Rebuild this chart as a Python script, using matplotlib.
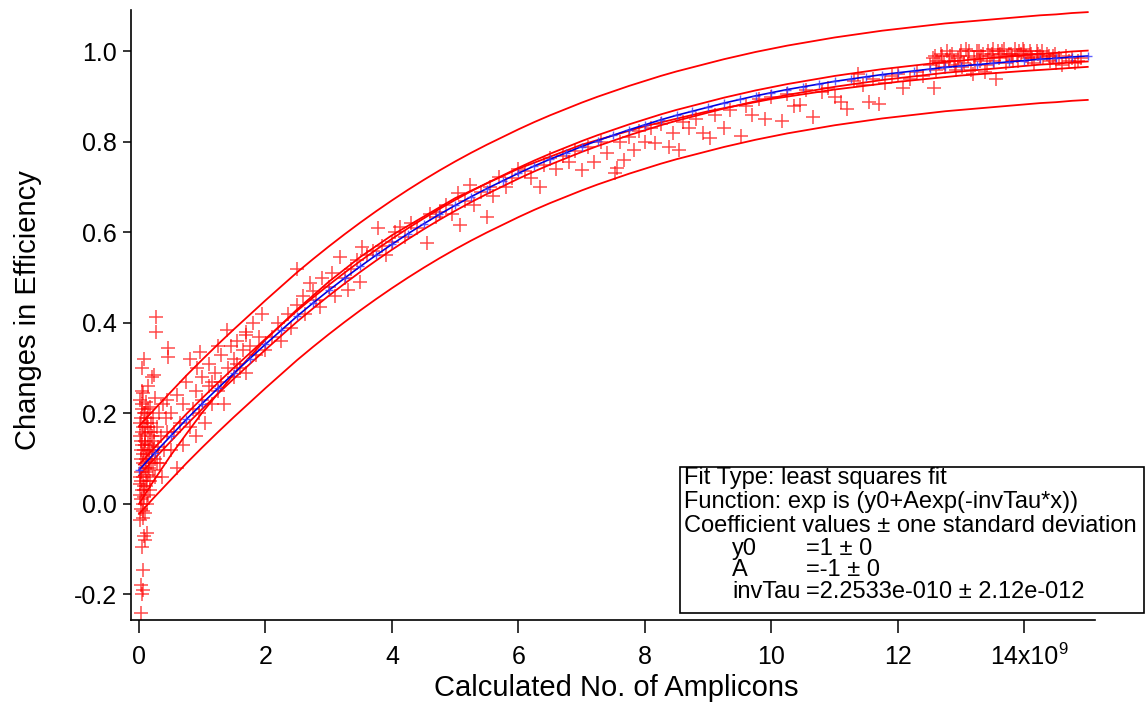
import numpy as np
import matplotlib
matplotlib.use("Agg")
import matplotlib.pyplot as plt
from matplotlib.patches import Rectangle

plt.rcParams["font.family"] = ["Liberation Sans", "DejaVu Sans"]

# measured points, x in units of 1e9 amplicons
amp_low = [0.03, 0.05, 0.06, 0.04, 0.06, 0.05, 0.09, 0.12, 0.08, 0.02,
           0.07, 0.10, 0.04, 0.13, 0.03, 0.08, 0.15, 0.05, 0.11, 0.02,
           0.18, 0.07, 0.14, 0.04, 0.22, 0.10, 0.06, 0.16, 0.03, 0.26,
           0.12, 0.20, 0.08, 0.30, 0.05, 0.15, 0.24, 0.02, 0.10, 0.35,
           0.18, 0.06, 0.28, 0.13, 0.03, 0.22, 0.09, 0.05, 0.17, 0.32,
           0.11, 0.02, 0.26, 0.07, 0.14, 0.20, 0.24, 0.05, 0.08, 0.27,
           0.27, 0.38, 0.42, 0.40, 0.44, 0.36, 0.33, 0.45, 0.46, 0.46,
           0.01, 0.04, 0.07, 0.10, 0.13, 0.16, 0.19, 0.02, 0.05, 0.08,
           0.11, 0.14, 0.17, 0.21, 0.03, 0.06, 0.09, 0.12, 0.25, 0.29,
           0.015, 0.035, 0.055, 0.075, 0.095, 0.115, 0.135, 0.155, 0.175, 0.195,
           0.215, 0.235, 0.045, 0.065, 0.085]
eff_low = [-0.24, -0.20, -0.19, -0.18, -0.145, -0.095, -0.08, -0.065, -0.07, -0.035,
           -0.03, -0.02, -0.01, 0.0, 0.01, 0.015, 0.02, 0.03, 0.04, 0.045,
           0.05, 0.06, 0.065, 0.07, 0.075, 0.08, 0.09, 0.095, 0.10, 0.10,
           0.11, 0.115, 0.12, 0.125, 0.13, 0.135, 0.14, 0.15, 0.155, 0.15,
           0.16, 0.17, 0.17, 0.18, 0.19, 0.19, 0.20, 0.21, 0.215, 0.20,
           0.225, 0.23, 0.235, 0.245, 0.26, 0.28, 0.285, 0.30, 0.32, 0.38,
           0.414, 0.22, 0.19, 0.12, 0.16, 0.06, 0.09, 0.23, 0.345, 0.325,
           0.02, 0.05, 0.11, 0.13, 0.05, 0.12, 0.09, 0.18, 0.16, 0.20,
           0.07, 0.17, 0.03, 0.15, 0.12, 0.00, 0.14, 0.19, 0.06, 0.09,
           0.06, 0.14, 0.22, 0.04, 0.17, 0.10, 0.21, 0.08, 0.13, 0.18,
           0.12, 0.16, 0.25, -0.015, 0.03]

amp_rise = [0.5, 0.5, 0.55, 0.6, 0.6, 0.65, 0.7, 0.7, 0.75, 0.8,
            0.8, 0.85, 0.9, 0.9, 0.92, 0.95, 1.0, 1.0, 1.05, 1.1,
            1.1, 1.15, 1.2, 1.25, 1.3, 1.3, 1.35, 1.4, 1.45, 1.5,
            1.5, 1.55, 1.6, 1.65, 1.7, 1.7, 1.75, 1.8, 1.85, 1.9,
            1.95, 2.0, 0.96, 1.39, 1.7, 1.25, 1.55, 1.15]
eff_rise = [0.12, 0.20, 0.16, 0.08, 0.24, 0.18, 0.13, 0.22, 0.27, 0.17,
            0.32, 0.21, 0.15, 0.25, 0.30, 0.20, 0.23, 0.28, 0.18, 0.26,
            0.31, 0.22, 0.29, 0.25, 0.33, 0.27, 0.22, 0.30, 0.35, 0.28,
            0.32, 0.36, 0.30, 0.34, 0.38, 0.29, 0.35, 0.40, 0.33, 0.37,
            0.42, 0.34, 0.336, 0.385, 0.374, 0.35, 0.31, 0.27]

amp_mid = [2.1, 2.2, 2.25, 2.35, 2.4, 2.5, 2.5, 2.6, 2.62, 2.7,
           2.75, 2.8, 2.86, 2.9, 3.0, 3.05, 3.1, 3.18, 3.25, 3.3,
           3.35, 3.45, 3.5, 3.52, 3.6, 3.7, 3.78, 3.85, 3.9, 4.0,
           4.05, 4.13, 4.2, 4.3, 4.4, 4.55, 4.6, 4.7, 4.76, 4.85,
           4.95, 5.04, 5.07, 5.15, 5.23, 5.3, 5.4, 5.5, 5.55, 5.6,
           5.7, 5.8, 5.9, 6.0]
eff_mid = [0.37, 0.40, 0.36, 0.42, 0.39, 0.52, 0.44, 0.46, 0.42, 0.488,
           0.47, 0.45, 0.435, 0.50, 0.48, 0.51, 0.46, 0.546, 0.50, 0.473,
           0.52, 0.54, 0.49, 0.568, 0.55, 0.56, 0.61, 0.57, 0.55, 0.58,
           0.60, 0.612, 0.59, 0.62, 0.61, 0.577, 0.64, 0.635, 0.645, 0.66,
           0.64, 0.687, 0.617, 0.67, 0.705, 0.66, 0.69, 0.634, 0.70, 0.68,
           0.723, 0.70, 0.72, 0.74]

amp_high = [6.1, 6.2, 6.34, 6.4, 6.5, 6.6, 6.7, 6.8, 6.9, 7.0,
            7.1, 7.2, 7.3, 7.4, 7.53, 7.55, 7.6, 7.67, 7.75, 7.83,
            7.9, 8.0, 8.1, 8.16, 8.25, 8.38, 8.45, 8.54, 8.6, 8.7,
            8.8, 8.92, 9.03, 9.1, 9.25, 9.35, 9.52, 9.6, 9.7, 9.8,
            9.9, 10.0, 10.16, 10.25, 10.35, 10.45, 10.55, 10.66, 10.8, 10.9,
            11.0, 11.1, 11.2, 11.3, 11.37, 11.45, 11.54, 11.6, 11.7, 11.8,
            11.9, 12.0, 12.08, 12.19, 12.3, 12.4, 12.57]
eff_high = [0.735, 0.72, 0.70, 0.75, 0.765, 0.74, 0.77, 0.755, 0.78, 0.738,
            0.79, 0.756, 0.80, 0.775, 0.732, 0.742, 0.80, 0.76, 0.81, 0.782,
            0.825, 0.80, 0.83, 0.797, 0.84, 0.789, 0.82, 0.782, 0.845, 0.83,
            0.85, 0.82, 0.809, 0.86, 0.831, 0.87, 0.813, 0.88, 0.86, 0.895,
            0.851, 0.90, 0.846, 0.905, 0.88, 0.882, 0.915, 0.855, 0.91, 0.92,
            0.90, 0.888, 0.873, 0.935, 0.95, 0.925, 0.888, 0.94, 0.884, 0.93,
            0.945, 0.95, 0.92, 0.94, 0.955, 0.945, 0.92]

amp_top = [12.5, 12.55, 12.6, 12.65, 12.7, 12.75, 12.8, 12.85, 12.9, 12.95,
           13.0, 13.05, 13.1, 13.15, 13.2, 13.25, 13.3, 13.35, 13.4, 13.45,
           13.5, 13.55, 13.6, 13.65, 13.7, 13.75, 13.8, 13.85, 13.9, 13.95,
           14.0, 14.05, 14.1, 14.15, 14.2, 14.25, 14.3, 14.35, 14.4, 14.45,
           14.5, 14.55, 14.6, 14.7, 14.8, 14.9, 13.02, 13.12, 13.22, 13.32,
           13.42, 13.52, 13.62, 13.72, 13.82, 13.92, 14.02, 14.12, 14.22, 12.62,
           12.72, 12.82, 12.92, 13.18, 13.38,
           12.58, 12.68, 12.78, 12.88, 12.98, 13.08, 13.28, 13.48, 13.58, 13.68,
           13.78, 13.88, 13.98, 14.08, 14.28, 14.38, 14.48, 14.65, 14.75, 14.85]
eff_top = [0.97, 0.985, 0.96, 0.975, 0.99, 0.965, 0.98, 0.995, 0.97, 0.985,
           1.0, 0.975, 0.99, 0.96, 0.985, 1.0, 0.98, 0.995, 0.97, 0.99,
           1.005, 0.94, 0.985, 1.0, 0.975, 0.995, 0.99, 1.005, 0.98, 0.995,
           1.0, 0.985, 0.995, 0.975, 1.0, 0.99, 0.985, 0.995, 0.98, 0.99,
           0.975, 0.985, 0.97, 0.98, 0.975, 0.985, 0.965, 1.0, 0.97, 0.99,
           1.0, 0.98, 0.995, 0.99, 0.98, 1.0, 0.99, 0.985, 0.995, 0.98,
           0.975, 0.99, 0.96, 0.95, 0.955,
           0.99, 0.995, 1.0, 0.98, 0.99, 1.005, 1.0, 0.995, 1.0, 1.005,
           0.995, 0.99, 1.005, 1.0, 1.0, 0.99, 0.995, 0.99, 0.985, 0.98]

# blue trace, read every 0.25e9
blue_x = np.linspace(0, 15, 61)
blue_y = [0.075, 0.113, 0.150, 0.187, 0.222, 0.256, 0.289, 0.321, 0.353, 0.384,
          0.415, 0.444, 0.472, 0.499, 0.525, 0.550, 0.574, 0.597, 0.619, 0.640,
          0.660, 0.679, 0.697, 0.714, 0.731, 0.747, 0.762, 0.776, 0.790, 0.803,
          0.815, 0.827, 0.838, 0.849, 0.859, 0.868, 0.877, 0.886, 0.894, 0.902,
          0.909, 0.916, 0.922, 0.928, 0.934, 0.939, 0.944, 0.949, 0.953, 0.957,
          0.961, 0.965, 0.968, 0.971, 0.974, 0.977, 0.980, 0.983, 0.985, 0.988,
          0.990]
conf_half = 0.012   # inner band half width
pred_half = 0.097   # outer band half width

# least squares fit curve
fit_x = [0, 0.25, 0.5, 0.75, 1, 1.5, 2, 2.5, 3, 3.5, 4, 5, 6, 7, 8, 9, 10, 11, 12, 13, 14, 15]
fit_y = [0, 0.055, 0.107, 0.155, 0.202, 0.287, 0.363, 0.43, 0.491, 0.546, 0.594, 0.676,
         0.741, 0.794, 0.835, 0.868, 0.895, 0.916, 0.933, 0.947, 0.957, 0.966]

amp = np.concatenate([amp_low, amp_rise, amp_mid, amp_high, amp_top])
eff = np.concatenate([eff_low, eff_rise, eff_mid, eff_high, eff_top])
blue_y = np.array(blue_y)

W, H = 1146, 704
fig = plt.figure(figsize=(W / 100, H / 100), dpi=100, facecolor="white")
ax = fig.add_axes([131 / W, 1 - 620 / H, 964 / W, 610 / H])

ax.plot(amp, eff, ls="none", marker="+", ms=10, mew=1.1, color="#ff0000", alpha=0.7, zorder=2)
ax.plot(fit_x, fit_y, color="#ff0000", lw=1.3, zorder=3)
for off in (-conf_half, conf_half, -pred_half, pred_half):
    ax.plot(blue_x, blue_y + off, color="#ff0000", lw=1.3, zorder=3)
ax.plot(blue_x, blue_y, color="#0000e0", lw=1.2, zorder=4)
ax.plot(blue_x, blue_y, ls="none", marker="+", ms=6, mew=1.0, color="#3a3aff", alpha=0.8, zorder=4)

ax.set_xlim(-0.126, 15.115)
ax.set_ylim(-0.2564, 1.0917)
ax.set_xticks(range(0, 15, 2))
ax.set_xticklabels(["0", "2", "4", "6", "8", "10", "12", "14x10"])
ax.set_yticks([-0.2, 0.0, 0.2, 0.4, 0.6, 0.8, 1.0])
ax.set_yticklabels(["-0.2", "0.0", "0.2", "0.4", "0.6", "0.8", "1.0"])
ax.annotate("9", xy=(14, 0), xycoords=("data", "axes fraction"),
            xytext=(34, -22), textcoords="offset pixels", fontsize=12, ha="left", va="top")

for s in ("top", "right"):
    ax.spines[s].set_visible(False)
for s in ("left", "bottom"):
    ax.spines[s].set_linewidth(1.2)
ax.tick_params(axis="y", direction="out", length=6, width=1.1, pad=4, labelsize=18)
ax.tick_params(axis="x", direction="out", length=9, width=1.1, pad=9, labelsize=18)

ax.set_xlabel("Calculated No. of Amplicons", fontsize=21, va="center")
ax.xaxis.set_label_coords(0.5036, -0.1115)
ax.set_ylabel("Changes in Efficiency", fontsize=21, va="center")
ax.yaxis.set_label_coords(-0.107, 0.508)

# fit results box
fig.patches.append(Rectangle((680 / W, 1 - 613 / H), 464 / W, 146 / H, transform=fig.transFigure,
                             facecolor="white", edgecolor="black", lw=1.2, zorder=5))
lines = ["Fit Type: least squares fit",
         "Function: exp is (y0+Aexp(-invTau*x))",
         "Coefficient values ± one standard deviation"]
rows = [("y0", "=1 ± 0"), ("A", "=-1 ± 0"), ("invTau", "=2.2533e-010 ± 2.12e-012")]
ys = [478, 502, 525.5, 549, 570, 591.5]
for t, yp in zip(lines, ys[:3]):
    fig.text(684 / W, 1 - yp / H, t, fontsize=17, va="center", ha="left", zorder=6)
for (n, v), yp in zip(rows, ys[3:]):
    fig.text(732 / W, 1 - yp / H, n, fontsize=17, va="center", ha="left", zorder=6)
    fig.text(806 / W, 1 - yp / H, v, fontsize=17, va="center", ha="left", zorder=6)

fig.savefig("out.png", dpi=100)
